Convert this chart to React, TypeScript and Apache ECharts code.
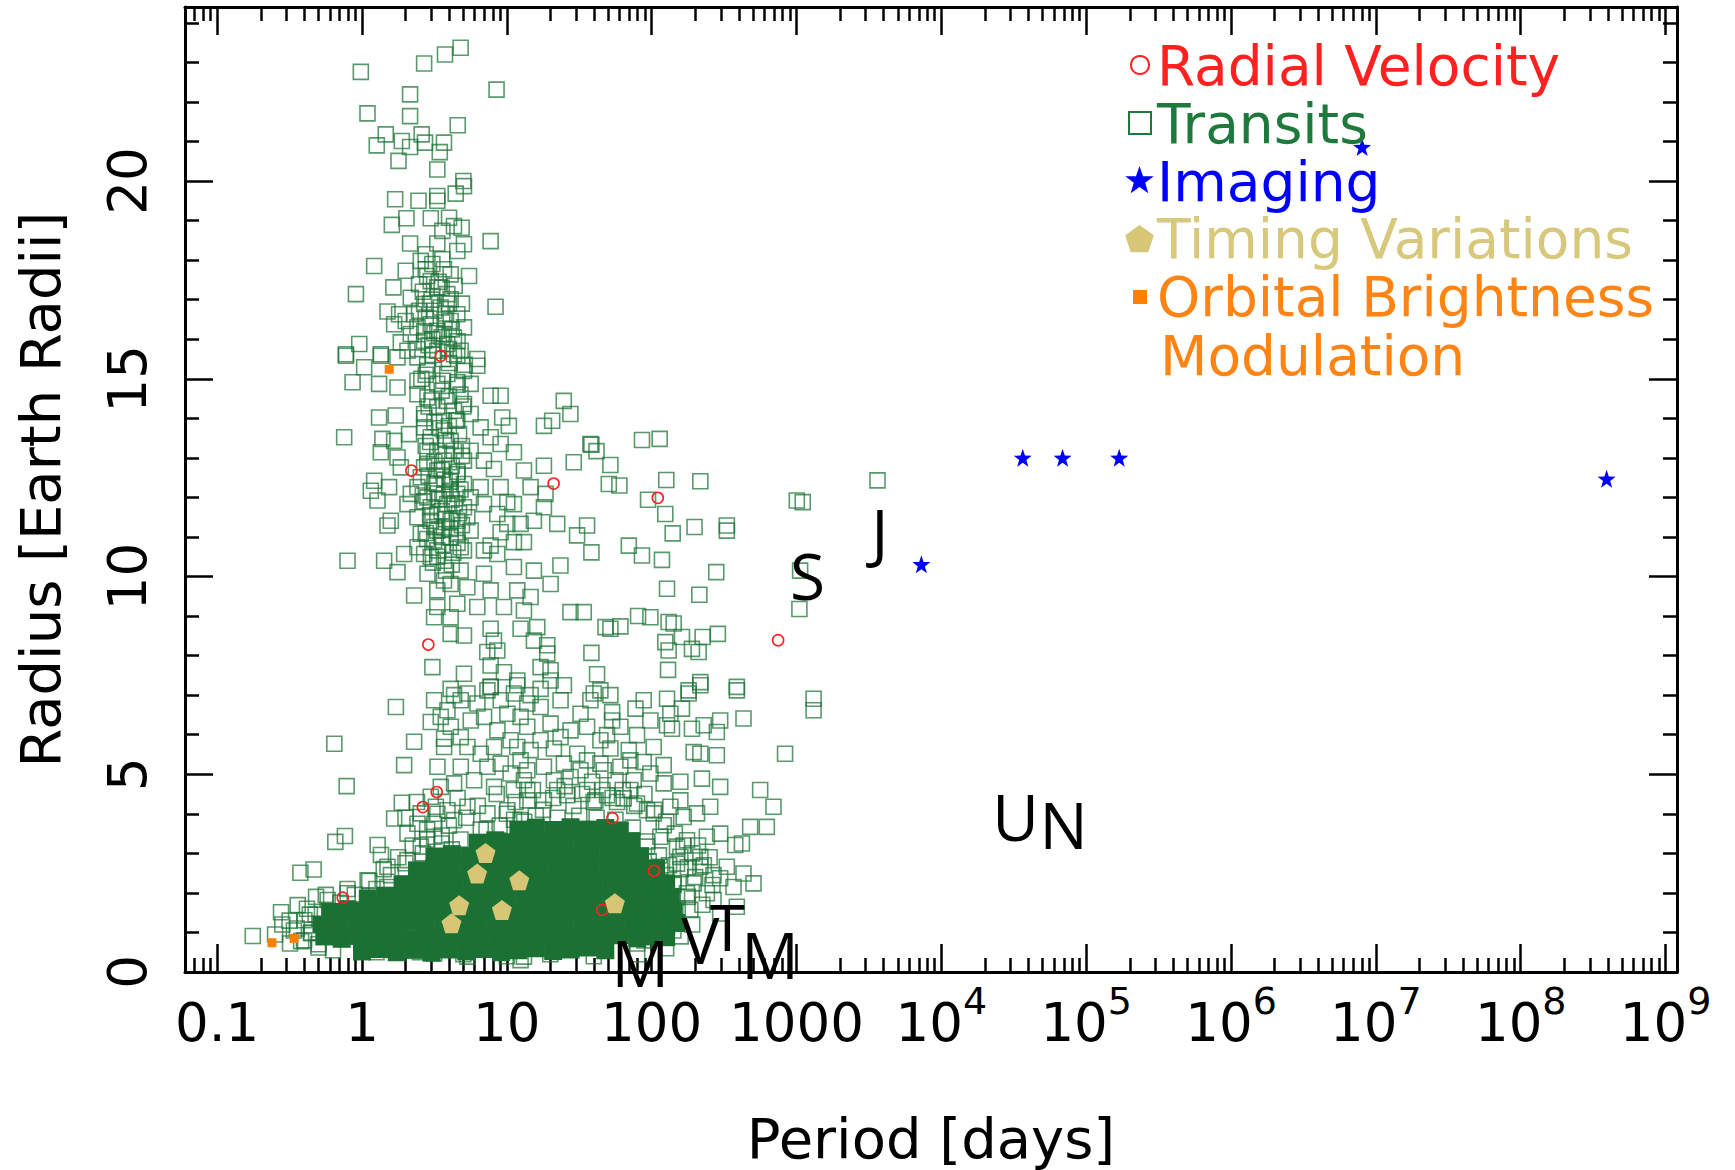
import React, { useEffect, useRef } from 'react';
import * as echarts from 'echarts';

// x values: log10(orbital period / days); y values: planet radius in Earth radii
const xRange = [-1.222, 9.079];
const yRange = [0, 24.4];
const xMajorTicks = [-1, 0, 1, 2, 3, 4, 5, 6, 7, 8, 9];
const xTickLabels = ['0.1', '1', '10', '100', '1000', '10^4', '10^5', '10^6', '10^7', '10^8', '10^9'];
const yMajorTicks = [0, 5, 10, 15, 20];
const yMinorTicks = [1, 2, 3, 4, 6, 7, 8, 9, 11, 12, 13, 14, 16, 17, 18, 19, 21, 22, 23, 24];

const radialVelocity = [
  [0.544, 15.58], [0.341, 12.68], [1.323, 12.35], [2.042, 11.99], [0.458, 8.28], [2.873, 8.39],
  [0.516, 4.55], [0.42, 4.17], [1.729, 3.89], [-0.133, 1.88], [2.016, 2.56], [1.658, 1.57],
];

const transitsUpper = [
  [-0.008, 22.76], [0.429, 22.97], [0.573, 23.2], [0.681, 23.37], [0.332, 22.19], [0.929, 22.31], [0.038, 21.71],
  [0.332, 21.64], [0.661, 21.41], [0.164, 21.18], [0.275, 21.01], [0.412, 21.18], [0.102, 20.9], [0.332, 20.86],
  [0.435, 20.97], [0.566, 20.97], [0.537, 20.73], [0.252, 20.51], [0.52, 20.29], [0.7, 20.0], [0.704, 19.87],
  [0.229, 19.54], [0.39, 19.5], [0.52, 19.5], [0.52, 19.62], [0.647, 19.68], [0.307, 19.06], [0.475, 19.06],
  [0.206, 18.89], [0.601, 19.07], [0.635, 18.86], [0.688, 18.82], [0.555, 18.74], [0.888, 18.48], [0.332, 18.42],
  [0.52, 18.42], [0.704, 18.4], [0.658, 18.23], [0.44, 18.15], [0.555, 18.02], [0.084, 17.85], [0.302, 17.73],
  [0.44, 17.77], [0.566, 17.77], [0.739, 17.6], [0.475, 17.47], [-0.042, 17.14], [0.217, 17.31], [0.52, 17.31],
  [0.337, 17.05], [0.922, 16.82], [0.176, 16.7], [0.256, 16.63], [0.612, 17.01], [0.429, 16.89], [0.302, 16.46],
  [0.222, 16.38], [0.498, 16.72], [0.658, 16.63], [0.704, 16.3], [0.337, 16.13], [0.566, 16.13], [0.429, 15.96],
  [-0.019, 15.88], [-0.111, 15.62], [0.13, 15.62], [0.268, 15.92], [0.52, 15.71], [0.681, 15.71], [0.796, 15.5],
  [0.406, 17.98], [0.486, 17.9], [0.612, 17.64], [0.394, 17.39], [0.589, 17.14], [0.394, 16.72], [0.543, 16.8],
  [0.36, 16.63], [0.612, 16.46], [0.475, 16.38], [0.383, 16.3], [0.52, 16.21], [0.635, 16.04], [0.486, 16.0],
  [0.589, 15.88], [0.383, 15.75], [0.635, 15.62], [0.314, 15.71], [0.45, 17.6], [0.55, 17.3], [0.48, 17.0],
  [0.6, 16.9], [0.44, 16.55], [0.57, 16.5], [0.5, 16.15], [0.62, 16.25], [0.46, 15.85], [0.56, 15.5], [0.45, 15.35],
  [0.6, 15.4], [0.42, 17.2], [0.53, 17.45], [0.64, 17.35], [0.47, 16.9], [0.58, 16.65], [0.69, 16.9], [0.43, 16.2],
  [0.55, 16.05], [0.66, 15.95], [0.49, 15.6], [0.6, 15.75], [0.71, 15.35],
];

const transitsMiddle = [
  [-0.111, 15.58], [0.13, 15.58], [0.245, 15.54], [0.383, 15.54], [0.658, 15.58], [0.796, 15.33], [0.015, 15.29],
  [-0.065, 14.91], [0.118, 14.87], [0.245, 14.78], [0.383, 14.95], [0.52, 14.87], [0.658, 14.91], [0.75, 14.87],
  [0.888, 14.57], [0.957, 14.57], [1.393, 14.44], [1.439, 14.11], [0.118, 14.02], [0.233, 14.07], [0.452, 14.53],
  [0.589, 14.44], [0.704, 14.36], [0.75, 14.11], [0.968, 14.02], [1.014, 13.81], [1.256, 13.81], [1.313, 13.94],
  [-0.123, 13.52], [0.141, 13.48], [0.222, 13.43], [0.325, 13.6], [0.429, 13.77], [0.566, 13.69], [0.658, 13.94],
  [0.819, 13.77], [0.888, 13.52], [0.957, 13.35], [1.049, 13.14], [1.577, 13.35], [0.13, 13.14], [0.245, 13.01],
  [0.452, 13.18], [0.635, 13.18], [0.75, 13.18], [0.842, 12.93], [0.911, 12.72], [1.118, 12.68], [1.256, 12.8],
  [1.462, 12.89], [0.084, 12.42], [0.187, 12.26], [0.268, 12.76], [0.406, 12.51], [0.52, 12.68], [0.612, 12.51],
  [0.704, 12.34], [0.819, 12.26], [0.957, 12.26], [1.164, 12.26], [1.267, 12.09], [0.061, 12.17], [0.107, 11.92],
  [0.337, 12.09], [0.452, 12.0], [0.566, 12.09], [0.658, 12.09], [0.75, 12.0], [1.003, 11.88], [1.049, 11.83],
  [1.256, 11.75], [0.199, 11.41], [0.176, 11.29], [0.383, 11.5], [0.52, 11.58], [0.612, 11.41], [0.727, 11.5],
  [0.842, 11.83], [0.934, 11.58], [1.003, 11.33], [1.095, 11.33], [1.187, 11.41], [1.348, 11.33], [1.485, 11.04],
  [1.554, 11.29], [0.406, 11.08], [0.52, 11.16], [0.658, 11.08], [0.75, 11.16], [0.957, 11.12], [1.049, 10.87],
  [1.118, 10.87], [0.383, 10.74], [0.52, 10.66], [0.681, 10.74], [0.888, 10.78], [0.934, 10.57], [-0.1, 10.4],
  [0.153, 10.4], [0.291, 10.57], [0.429, 10.57], [0.475, 10.49], [0.704, 10.66], [0.842, 10.66], [0.245, 10.11],
  [0.452, 10.07], [0.566, 9.9], [0.681, 10.15], [0.842, 10.07], [1.049, 10.24], [1.187, 10.15], [1.37, 10.28],
  [0.36, 9.52], [0.52, 9.65], [0.612, 9.81], [0.727, 9.73], [0.888, 9.65], [1.072, 9.65], [1.164, 9.48],
  [1.302, 9.81], [0.52, 9.23], [0.658, 9.31], [0.796, 9.23], [0.98, 9.23], [1.118, 9.14], [1.439, 9.1],
  [1.531, 9.1], [0.498, 8.97], [0.612, 8.97], [0.888, 8.68], [1.095, 8.68], [1.21, 8.72], [0.612, 8.55],
  [0.704, 8.51], [0.911, 8.38], [1.187, 8.38], [1.279, 8.26], [0.865, 8.09], [0.934, 8.13], [1.279, 8.05],
  [0.486, 7.71], [0.704, 7.54], [0.888, 7.75], [0.98, 7.58], [1.072, 7.37], [1.233, 7.71], [1.302, 7.63],
  [1.302, 7.37], [0.612, 7.16], [0.888, 7.21], [0.452, 15.2], [0.589, 15.12], [0.704, 15.2], [0.383, 14.61],
  [0.52, 14.28], [0.635, 14.19], [0.429, 14.11], [0.566, 13.94], [0.475, 13.52], [0.612, 13.43], [0.52, 13.18],
  [0.704, 12.93], [0.566, 12.93], [0.429, 12.76], [0.658, 12.59], [0.52, 12.34], [0.383, 12.26], [0.612, 12.17],
  [0.475, 11.75], [0.589, 11.83], [0.704, 11.75], [0.475, 11.41], [0.566, 11.24], [0.658, 11.41], [0.498, 10.91],
  [0.612, 10.99], [0.566, 10.4], [0.314, 11.83], [0.41, 15.0], [0.55, 14.7], [0.68, 14.6], [0.46, 14.3],
  [0.6, 13.8], [0.5, 13.9], [0.67, 13.6], [0.44, 13.3], [0.58, 13.1], [0.69, 13.3], [0.5, 12.9], [0.62, 12.8],
  [0.46, 12.55], [0.57, 12.45], [0.68, 12.2], [0.5, 12.1], [0.62, 11.95], [0.43, 11.9], [0.55, 11.65],
  [0.67, 11.6], [0.5, 11.25], [0.61, 11.2], [0.45, 10.95], [0.56, 10.8], [0.66, 10.85], [0.52, 10.5], [0.62, 10.3],
  [0.44, 15.1], [0.56, 14.95], [0.66, 14.85], [0.48, 14.45], [0.6, 14.55], [0.7, 14.3], [0.43, 14.0],
  [0.54, 13.75], [0.65, 13.95], [0.47, 13.4], [0.58, 13.45], [0.69, 13.05], [0.45, 12.85], [0.55, 12.7],
  [0.66, 12.65], [0.5, 12.35], [0.61, 12.4], [0.42, 12.05], [0.53, 11.95], [0.64, 11.85], [0.47, 11.55],
  [0.58, 11.45], [0.69, 11.3], [0.44, 11.1], [0.55, 11.0], [0.63, 10.6], [0.49, 10.35], [0.58, 10.15],
];

const transitsRight = [
  [1.933, 13.45], [2.055, 13.48], [1.584, 13.33], [1.619, 13.17], [1.715, 12.82], [1.704, 12.34], [1.777, 12.3],
  [1.975, 11.94], [2.101, 12.44], [2.336, 12.41], [2.094, 11.58], [2.145, 11.09], [2.296, 11.25], [2.519, 11.29],
  [2.519, 11.16], [1.584, 10.61], [1.842, 10.78], [1.933, 10.53], [2.071, 10.42], [2.446, 10.11], [2.106, 9.69],
  [2.329, 9.54], [1.906, 9.0], [1.991, 8.97], [2.117, 8.85], [2.152, 8.81], [1.681, 8.72], [1.715, 8.68],
  [1.784, 8.74], [2.094, 8.34], [2.209, 8.47], [2.352, 8.47], [2.457, 8.55], [2.278, 8.17], [2.324, 8.09],
  [2.117, 8.13], [1.584, 8.07], [1.623, 7.53], [2.113, 7.64], [2.336, 7.33], [2.588, 7.21], [2.255, 7.12],
  [3.002, 11.92], [3.043, 11.88], [3.025, 10.15], [3.02, 9.18], [3.559, 12.43], [3.118, 6.91], [3.118, 6.62],
];

const transitsLower = [
  [2.588, 7.12], [2.336, 7.25], [2.255, 7.04], [2.106, 6.91], [2.129, 6.53], [1.945, 6.87], [1.888, 6.66],
  [1.727, 6.57], [1.727, 6.36], [1.6, 7.04], [1.646, 7.12], [1.715, 7.0], [1.394, 7.25], [1.233, 7.16],
  [1.164, 7.0], [1.577, 6.87], [2.209, 6.66], [2.106, 6.24], [2.14, 6.15], [2.278, 6.15], [2.359, 6.24],
  [2.45, 6.07], [2.473, 6.36], [2.634, 6.41], [1.44, 6.11], [1.371, 5.94], [1.141, 6.2], [1.899, 5.99],
  [1.692, 5.99], [1.646, 5.86], [1.325, 5.65], [1.164, 5.61], [1.715, 5.65], [1.842, 5.61], [1.853, 5.35],
  [1.945, 5.31], [2.083, 5.23], [2.29, 5.56], [2.336, 5.52], [2.45, 5.48], [2.921, 5.52], [1.554, 5.35],
  [1.646, 5.27], [1.669, 5.1], [1.509, 5.1], [1.394, 5.27], [1.256, 5.19], [1.141, 5.1], [1.44, 4.93],
  [1.589, 4.81], [1.75, 4.85], [1.876, 4.85], [2.083, 4.77], [2.198, 4.81], [2.347, 4.89], [2.473, 4.68],
  [2.749, 4.6], [2.841, 4.18], [2.404, 4.18], [2.68, 3.67], [2.795, 3.67], [2.221, 3.92], [2.313, 4.01],
  [2.473, 3.5], [2.577, 3.21], [2.623, 3.25], [2.083, 3.71], [2.014, 4.01], [1.968, 4.09], [1.761, 4.3],
  [1.807, 4.39], [1.612, 4.34], [1.417, 4.47], [1.256, 4.34], [1.141, 4.6], [2.427, 2.45], [2.473, 2.37],
  [2.634, 2.49], [2.703, 2.24], [2.29, 2.24], [2.588, 1.65], [2.427, 1.82], [2.175, 2.74], [2.198, 2.91],
  [2.336, 2.91], [2.244, 1.99], [2.267, 1.57], [2.083, 1.57], [1.922, 1.15], [1.853, 1.31], [2.106, 1.15],
  [1.233, 6.7], [1.371, 6.87], [1.509, 6.53], [1.302, 6.28], [1.554, 6.2], [1.784, 6.2], [1.991, 6.36],
  [1.233, 5.86], [1.486, 5.52], [2.014, 5.69], [1.784, 5.19], [1.325, 4.85], [1.991, 5.02], [1.554, 4.6],
  [1.853, 4.6], [1.692, 4.47], [1.348, 4.6], [2.129, 4.18], [1.899, 4.26], [2.198, 4.34], [2.06, 3.42],
  [2.244, 3.33], [2.381, 3.42], [1.968, 3.17], [2.175, 3.17], [2.336, 2.66], [2.06, 2.66], [2.152, 2.24],
  [2.014, 1.9], [2.175, 1.9], [1.968, 1.48], [1.784, 1.15], [1.669, 0.81], [1.44, 0.72], [1.233, 0.64],
  [1.118, 0.39], [1.899, 0.72], [2.381, 1.99], [2.473, 1.48], [2.565, 2.15], [2.519, 2.66],
  [0.234, 6.7], [-0.191, 5.77], [0.36, 5.82], [0.291, 5.23], [-0.106, 4.7], [0.275, 4.28], [0.222, 3.88],
  [-0.184, 3.29], [-0.118, 3.44], [-0.425, 2.51], [-0.334, 2.59], [-0.559, 1.51], [-0.444, 1.69], [-0.754, 0.91],
  [-0.497, 0.72], [-0.317, 1.9], [-0.237, 1.82], [0.108, 3.21], [0.131, 2.96], [0.176, 2.66], [-0.398, 1.31],
  [-0.352, 0.98], [0.475, 6.32], [0.636, 7.0], [0.728, 7.04], [0.866, 7.12], [0.889, 7.21], [1.072, 7.25],
  [0.567, 5.69], [0.521, 5.19], [0.636, 4.77], [0.51, 4.18], [0.59, 4.09], [0.383, 3.75], [0.314, 3.5],
  [0.544, 6.45], [0.567, 5.9], [0.682, 5.94], [0.751, 6.36], [0.843, 6.45], [0.935, 6.11], [1.004, 6.53],
  [1.095, 6.45], [0.82, 5.52], [0.912, 5.69], [1.026, 5.86], [1.095, 5.35], [0.866, 5.19], [1.026, 5.02],
  [1.118, 4.85], [0.498, 6.87], [0.59, 6.62], [0.682, 6.87], [0.797, 6.79], [0.958, 6.87], [1.049, 7.04],
  [1.141, 6.79], [0.613, 6.2], [0.728, 5.69], [0.958, 5.27], [1.072, 5.69], [0.682, 5.19], [0.774, 4.85],
  [0.912, 4.68], [1.049, 4.6], [1.141, 4.34], [0.544, 4.68], [0.475, 4.43], [0.728, 4.18], [0.866, 4.01],
  [1.004, 4.09], [0.636, 3.84], [0.498, 3.75], [1.095, 3.84], [0.406, 4.01], [-0.145, 1.48], [-0.053, 0.89],
  [0.085, 0.64], [0.268, 0.56], [0.498, 0.47], [0.728, 0.39], [0.958, 0.56], [1.095, 0.3], [-0.099, 1.99],
  [0.039, 2.32], [0.176, 2.15], [0.314, 2.83], [0.406, 3.17], [0.498, 3.42],
  [0.3, 3.9], [0.38, 4.3], [0.45, 3.6], [0.52, 4.0], [0.6, 3.7], [0.66, 4.4], [0.72, 3.9], [0.8, 4.2],
  [0.86, 3.6], [0.93, 4.5], [1.0, 4.0], [1.06, 4.3], [1.12, 3.8], [1.18, 4.6], [1.25, 4.1], [1.32, 4.4],
  [1.4, 4.7], [1.46, 4.2], [1.52, 4.5], [1.6, 4.3], [1.66, 4.6], [1.73, 4.4], [1.8, 4.6], [1.88, 4.2],
  [1.95, 4.5], [2.02, 4.1], [2.1, 3.8], [2.16, 3.5], [2.22, 3.2], [2.28, 3.0], [2.2, 2.6], [2.3, 2.4],
  [2.36, 2.7], [2.42, 2.2], [2.25, 1.9], [2.35, 1.7], [2.15, 1.3], [2.28, 1.2], [2.2, 0.9], [2.1, 0.6],
  [1.9, 0.45], [1.6, 0.4], [1.3, 0.45], [1.0, 0.4], [0.7, 0.45], [0.4, 0.5], [0.1, 0.5], [-0.2, 0.55],
  [-0.4, 0.8], [-0.45, 1.1], [-0.5, 1.3], [-0.38, 1.6], [-0.25, 1.95], [-0.1, 2.1], [0.05, 2.3], [0.15, 2.6],
  [0.25, 2.9], [0.35, 3.2], [0.45, 3.35], [0.55, 3.45], [0.62, 3.1], [-0.47, 1.05], [-0.42, 0.78],
  [-0.36, 1.45], [-0.3, 0.62], [-0.55, 1.2], [-0.6, 0.95], [1.95, 2.3], [2.05, 2.05], [1.98, 2.8], [2.1, 2.45],
  [2.0, 1.2], [2.08, 0.95], [1.95, 0.8], [2.25, 2.65], [2.4, 2.9], [2.32, 3.2],
  [0.2, 2.45], [0.3, 2.75], [0.42, 3.0], [0.55, 3.25], [0.68, 3.35], [0.82, 3.6], [0.95, 3.7], [1.05, 3.85],
  [1.2, 3.95], [1.35, 3.9], [1.5, 3.95], [1.62, 3.9], [1.75, 3.85], [1.87, 3.65], [1.97, 3.3], [2.05, 2.95],
  [2.12, 2.7], [2.15, 2.2], [2.18, 1.6], [2.15, 1.05], [-0.32, 1.45], [-0.35, 1.0], [-0.3, 0.7], [-0.15, 1.75],
  [-0.05, 1.95], [0.1, 2.1],
];

// the saturated (overplotted) part of the transit cloud
const transitsCore = [
  [0.0, 0.52], [0.12, 0.58], [0.24, 0.5], [0.36, 0.56], [0.48, 0.49], [0.6, 0.57], [0.72, 0.52], [0.84, 0.58],
  [0.96, 0.5], [1.08, 0.55], [1.2, 0.6], [1.32, 0.53], [1.44, 0.57], [1.56, 0.62], [1.68, 0.55],
  [-0.26, 0.9], [-0.14, 0.84], [-0.02, 0.92], [0.1, 0.86], [0.22, 0.9], [0.34, 0.83], [0.46, 0.89], [0.58, 0.85],
  [0.7, 0.92], [0.82, 0.86], [0.94, 0.9], [1.06, 0.84], [1.18, 0.91], [1.3, 0.87], [1.42, 0.83], [1.54, 0.9],
  [1.66, 0.88], [1.78, 0.93], [1.9, 0.86], [2.0, 0.9], [2.1, 0.88],
  [-0.28, 1.2], [-0.16, 1.26], [-0.04, 1.18], [0.08, 1.24], [0.2, 1.2], [0.32, 1.27], [0.44, 1.19], [0.56, 1.25],
  [0.68, 1.21], [0.8, 1.27], [0.92, 1.18], [1.04, 1.23], [1.16, 1.2], [1.28, 1.26], [1.4, 1.19], [1.52, 1.24],
  [1.64, 1.21], [1.76, 1.27], [1.88, 1.2], [1.99, 1.25], [2.08, 1.19], [2.17, 1.24],
  [-0.22, 1.52], [-0.1, 1.58], [0.02, 1.55], [0.14, 1.6], [0.26, 1.53], [0.38, 1.57], [0.5, 1.61], [0.62, 1.54],
  [0.74, 1.59], [0.86, 1.53], [0.98, 1.6], [1.1, 1.55], [1.22, 1.58], [1.34, 1.52], [1.46, 1.6], [1.58, 1.56],
  [1.7, 1.53], [1.82, 1.59], [1.94, 1.55], [2.05, 1.58], [2.15, 1.54],
  [0.04, 1.86], [0.16, 1.93], [0.28, 1.88], [0.4, 1.94], [0.52, 1.87], [0.64, 1.92], [0.76, 1.89], [0.88, 1.95],
  [1.0, 1.88], [1.12, 1.93], [1.24, 1.87], [1.36, 1.92], [1.48, 1.9], [1.6, 1.95], [1.72, 1.88], [1.84, 1.93],
  [1.95, 1.87], [2.04, 1.92], [2.13, 1.9],
  [0.28, 2.22], [0.4, 2.28], [0.52, 2.23], [0.64, 2.29], [0.76, 2.21], [0.88, 2.27], [1.0, 2.24], [1.12, 2.3],
  [1.24, 2.22], [1.36, 2.27], [1.48, 2.25], [1.6, 2.3], [1.72, 2.23], [1.84, 2.28], [1.95, 2.22], [2.02, 2.27],
  [2.1, 2.24],
  [0.38, 2.57], [0.5, 2.63], [0.62, 2.58], [0.74, 2.64], [0.86, 2.57], [0.98, 2.62], [1.1, 2.59], [1.22, 2.65],
  [1.34, 2.58], [1.46, 2.63], [1.58, 2.6], [1.7, 2.56], [1.82, 2.62], [1.93, 2.58], [2.03, 2.62],
  [0.5, 2.92], [0.62, 2.98], [0.74, 2.93], [0.86, 2.99], [0.98, 2.92], [1.1, 2.97], [1.22, 2.94], [1.34, 3.0],
  [1.46, 2.93], [1.58, 2.98], [1.7, 2.92], [1.82, 2.97], [1.92, 2.93],
  [0.8, 3.27], [0.92, 3.33], [1.04, 3.28], [1.16, 3.34], [1.28, 3.27], [1.4, 3.32], [1.52, 3.29], [1.64, 3.35],
  [1.76, 3.28], [1.86, 3.31],
  [1.08, 3.6], [1.2, 3.65], [1.32, 3.59], [1.44, 3.66], [1.56, 3.6], [1.68, 3.64], [1.78, 3.58],
];

const imaging = [[3.862, 10.31], [4.562, 13.0], [4.837, 13.0], [5.228, 13.0], [6.905, 20.86], [8.593, 12.47]];
const timingVariations = [[0.853, 3.01], [0.795, 2.49], [1.086, 2.32], [0.671, 1.69], [0.966, 1.57], [0.618, 1.23], [1.746, 1.74]];
const orbitalBrightness = [[-0.621, 0.74], [-0.469, 0.85], [0.188, 15.24]];

const planetLetters = ['M', 'V', 'T', 'M', 'J', 'S', 'U', 'N'];
const planetLogPeriod = [1.922, 2.336, 2.522, 2.818, 3.576, 3.077, 4.513, 4.844];
const planetRadius = [0.23, 0.83, 1.14, 0.45, 11.14, 10.03, 3.94, 3.74];

const legendLabels = ['Radial Velocity', 'Transits', 'Imaging', 'Timing Variations', 'Orbital Brightness', 'Modulation'];

const FONT = '"DejaVu Sans", "Liberation Sans", sans-serif';
const RED = '#ff2020';
const GREEN = '#1e7a3c';
const BLUE = '#0000ff';
const KHAKI = '#d8c87c';
const ORANGE = '#ff8414';

const STAR = 'path://M0,-10 L2.35,-3.24 L9.51,-3.09 L3.8,1.24 L5.88,8.09 L0,4 L-5.88,8.09 L-3.8,1.24 L-9.51,-3.09 L-2.35,-3.24 Z';
const PENTAGON = 'path://M0,-10 L9.51,-3.09 L5.88,8.09 L-5.88,8.09 L-9.51,-3.09 Z';

function starPoints(cx: number, cy: number, R: number, r: number) {
  const pts: number[][] = [];
  for (let i = 0; i < 10; i++) {
    const a = -Math.PI / 2 + (i * Math.PI) / 5;
    const rad = i % 2 === 0 ? R : r;
    pts.push([cx + rad * Math.cos(a), cy + rad * Math.sin(a)]);
  }
  return pts;
}
function pentagonPoints(cx: number, cy: number, R: number) {
  const pts: number[][] = [];
  for (let i = 0; i < 5; i++) {
    const a = -Math.PI / 2 + (i * 2 * Math.PI) / 5;
    pts.push([cx + R * Math.cos(a), cy + R * Math.sin(a)]);
  }
  return pts;
}

export default function App() {
  const ref = useRef<HTMLDivElement>(null);

  useEffect(() => {
    if (!ref.current) return;
    const chart = echarts.init(ref.current, null, { renderer: 'svg' });

    const xMinorTicks: number[] = [];
    for (let d = -2; d <= 8; d++) {
      for (let k = 2; k <= 9; k++) {
        const v = d + Math.log10(k);
        if (v > xRange[0] + 0.01 && v < xRange[1]) xMinorTicks.push(v);
      }
    }

    const xLabelFormatter = (v: number) => {
      const i = xMajorTicks.indexOf(Math.round(v));
      const t = i >= 0 ? xTickLabels[i] : '';
      if (t.indexOf('^') >= 0) {
        const [b, e] = t.split('^');
        return `{b|${b}}{s|${e}}`;
      }
      return `{b|${t}}`;
    };

    const lineStyle = { color: '#000', width: 3 };
    const tickStyle = { color: '#000', width: 2.5 };
    const hiddenLine = { show: false, onZero: false };
    const shownLine = { show: true, onZero: false, lineStyle };

    const xBase = { type: 'value', min: xRange[0], max: xRange[1], splitLine: { show: false }, axisLabel: { show: false } };
    const yBase = { type: 'value', min: yRange[0], max: yRange[1], splitLine: { show: false }, axisLabel: { show: false } };

    const option: any = {
      animation: false,
      backgroundColor: '#ffffff',
      textStyle: { fontFamily: FONT },
      grid: { left: 185, top: 7, right: 58, bottom: 198, containLabel: false, outerBoundsMode: 'none' },
      xAxis: [
        {
          ...xBase,
          position: 'bottom',
          axisLine: shownLine,
          axisTick: { show: true, inside: true, length: 28, customValues: xMajorTicks, lineStyle: tickStyle },
          axisLabel: {
            show: true,
            customValues: xMajorTicks,
            formatter: xLabelFormatter,
            margin: 10,
            rich: {
              b: { fontSize: 53, fontFamily: FONT, color: '#000', lineHeight: 67, verticalAlign: 'bottom' },
              s: { fontSize: 38, fontFamily: FONT, color: '#000', verticalAlign: 'top' },
            },
          },
          name: 'Period [days]',
          nameLocation: 'middle',
          nameGap: 136,
          nameTextStyle: { fontSize: 56, fontFamily: FONT, color: '#000', lineHeight: 60 },
        },
        { ...xBase, position: 'bottom', axisLine: hiddenLine, axisTick: { show: true, inside: true, length: 14, customValues: xMinorTicks, lineStyle: tickStyle } },
        { ...xBase, position: 'top', axisLine: shownLine, axisTick: { show: true, inside: true, length: 28, customValues: xMajorTicks, lineStyle: tickStyle } },
        { ...xBase, position: 'top', axisLine: hiddenLine, axisTick: { show: true, inside: true, length: 14, customValues: xMinorTicks, lineStyle: tickStyle } },
      ],
      yAxis: [
        {
          ...yBase,
          position: 'left',
          axisLine: shownLine,
          axisTick: { show: true, inside: true, length: 28, customValues: yMajorTicks, lineStyle: tickStyle },
          axisLabel: { show: true, customValues: yMajorTicks, rotate: 90, margin: 28, fontSize: 53, fontFamily: FONT, color: '#000', lineHeight: 60 },
          name: 'Radius [Earth Radii]',
          nameLocation: 'middle',
          nameGap: 115,
          nameTextStyle: { fontSize: 56, fontFamily: FONT, color: '#000', lineHeight: 60 },
        },
        { ...yBase, position: 'left', axisLine: hiddenLine, axisTick: { show: true, inside: true, length: 14, customValues: yMinorTicks, lineStyle: tickStyle } },
        { ...yBase, position: 'right', axisLine: shownLine, axisTick: { show: true, inside: true, length: 28, customValues: yMajorTicks, lineStyle: tickStyle } },
        { ...yBase, position: 'right', axisLine: hiddenLine, axisTick: { show: true, inside: true, length: 14, customValues: yMinorTicks, lineStyle: tickStyle } },
      ],
      series: [
        {
          name: 'Transits', type: 'scatter', data: transitsCore, symbol: 'rect', symbolSize: 18,
          itemStyle: { color: '#1b7133', opacity: 1 }, z: 2, silent: true,
        },
        {
          name: 'Transits', type: 'scatter',
          data: [...transitsUpper, ...transitsMiddle, ...transitsRight, ...transitsLower],
          symbol: 'rect', symbolSize: 15,
          itemStyle: { color: 'rgba(0,0,0,0)', borderColor: 'rgba(27,114,52,0.72)', borderWidth: 1.6, opacity: 1 }, z: 3, silent: true,
        },
        {
          name: 'Radial Velocity', type: 'scatter', data: radialVelocity, symbol: 'circle', symbolSize: 11,
          itemStyle: { color: 'rgba(0,0,0,0)', borderColor: RED, borderWidth: 1.6, opacity: 1 }, z: 4, silent: true,
        },
        {
          name: 'Timing Variations', type: 'scatter', data: timingVariations, symbol: PENTAGON, symbolSize: 20,
          itemStyle: { color: '#d6c676', opacity: 1 }, z: 5, silent: true,
        },
        {
          name: 'Imaging', type: 'scatter', data: imaging, symbol: STAR, symbolSize: 18,
          itemStyle: { color: BLUE, opacity: 1 }, z: 5, silent: true,
        },
        {
          name: 'Orbital Brightness Modulation', type: 'scatter', data: orbitalBrightness, symbol: 'rect', symbolSize: 9,
          itemStyle: { color: '#ff7f00', opacity: 1 }, z: 5, silent: true,
        },
        {
          name: 'Solar System', type: 'scatter',
          data: planetLetters.map((n, i) => ({ name: n, value: [planetLogPeriod[i], planetRadius[i]] })),
          symbol: 'circle', symbolSize: 1, itemStyle: { color: 'rgba(0,0,0,0)' }, z: 6, silent: true,
          labelLayout: { hideOverlap: false },
          label: {
            show: true, position: 'inside', formatter: '{b}', fontSize: 64, fontWeight: 500,
            fontFamily: '"Open Sans", "DejaVu Sans", sans-serif', color: '#000', opacity: 1,
            textBorderWidth: 0, textBorderColor: 'transparent',
          },
        },
      ],
      graphic: [
        { type: 'circle', shape: { cx: 1140, cy: 65, r: 9 }, style: { fill: 'none', stroke: RED, lineWidth: 2 }, z: 100 },
        { type: 'rect', shape: { x: 1129, y: 112, width: 22, height: 22 }, style: { fill: 'none', stroke: GREEN, lineWidth: 2 }, z: 100 },
        { type: 'polygon', shape: { points: starPoints(1139.5, 181, 15, 6) }, style: { fill: BLUE }, z: 100 },
        { type: 'polygon', shape: { points: pentagonPoints(1139.5, 240, 15) }, style: { fill: '#d6c676' }, z: 100 },
        { type: 'rect', shape: { x: 1133, y: 290, width: 14, height: 14 }, style: { fill: '#ff7f00' }, z: 100 },
        ...legendLabels.map((t, i) => ({
          type: 'text',
          x: i === 5 ? 1160 : 1157,
          y: [66, 124, 182, 239, 297, 356][i],
          z: 100,
          style: {
            text: t,
            fill: [RED, GREEN, BLUE, KHAKI, ORANGE, ORANGE][i],
            fontSize: 55,
            fontFamily: FONT,
            align: 'left',
            verticalAlign: 'middle',
          },
        })),
      ],
    };

    chart.setOption(option);
    return () => chart.dispose();
  }, []);

  return (
    <div
      ref={ref}
      style={{ position: 'fixed', left: 0, top: 0, width: 1735, height: 1170, background: '#fff' }}
    />
  );
}
